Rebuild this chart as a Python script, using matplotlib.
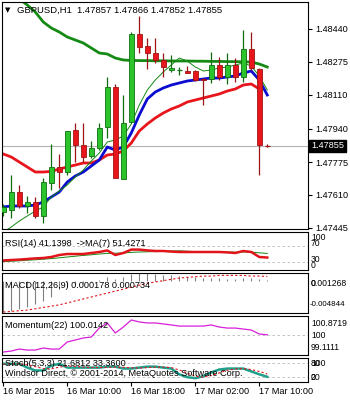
import numpy as np
import matplotlib.pyplot as plt
import matplotlib.transforms as mtransforms

# GBPUSD H1, 16 Mar 02:00 .. 17 Mar 11:00
opens  = [1.47525, 1.47535, 1.47625, 1.47555, 1.47575, 1.47505, 1.47670, 1.47750, 1.47725, 1.47935,
          1.47860, 1.47805, 1.47845, 1.47950, 1.48150, 1.47690, 1.47975, 1.48415, 1.48355, 1.48320,
          1.48285, 1.48235, 1.48234, 1.48230, 1.48230, 1.48190, 1.48190, 1.48260, 1.48200, 1.48260,
          1.48200, 1.48340, 1.48240, 1.47857]
highs  = [1.47565, 1.47710, 1.47660, 1.47605, 1.47600, 1.47695, 1.47865, 1.47815, 1.47930, 1.47970,
          1.47970, 1.47880, 1.47970, 1.48200, 1.48165, 1.48110, 1.48425, 1.48505, 1.48395, 1.48395,
          1.48320, 1.48310, 1.48250, 1.48255, 1.48235, 1.48195, 1.48325, 1.48300, 1.48320, 1.48295,
          1.48435, 1.48425, 1.48245, 1.47866]
lows   = [1.47505, 1.47495, 1.47545, 1.47520, 1.47495, 1.47470, 1.47635, 1.47645, 1.47710, 1.47775,
          1.47775, 1.47795, 1.47835, 1.47895, 1.47695, 1.47690, 1.47975, 1.48320, 1.48240, 1.48270,
          1.48200, 1.48225, 1.48210, 1.48220, 1.48180, 1.48060, 1.48170, 1.48185, 1.48165, 1.48175,
          1.48175, 1.48235, 1.47710, 1.47852]
closes = [1.47550, 1.47625, 1.47555, 1.47575, 1.47505, 1.47675, 1.47750, 1.47725, 1.47930, 1.47860,
          1.47800, 1.47845, 1.47945, 1.48150, 1.47695, 1.47970, 1.48415, 1.48350, 1.48320, 1.48285,
          1.48250, 1.48245, 1.48236, 1.48220, 1.48185, 1.48186, 1.48260, 1.48200, 1.48260, 1.48200,
          1.48340, 1.48245, 1.47860, 1.47855]

ma_slow = [1.48655, 1.48625, 1.48590, 1.48560, 1.48525, 1.48475, 1.48445, 1.48425, 1.48400, 1.48385,
           1.48370, 1.48345, 1.48320, 1.48315, 1.48295, 1.48285, 1.48283, 1.48282, 1.48282, 1.48281,
           1.48281, 1.48280, 1.48280, 1.48280, 1.48279, 1.48279, 1.48278, 1.48278, 1.48277, 1.48277,
           1.48276, 1.48275, 1.48265, 1.48250]
ma_blue = [1.47550, 1.47555, 1.47555, 1.47555, 1.47560, 1.47575, 1.47600, 1.47625, 1.47675, 1.47705,
           1.47725, 1.47755, 1.47785, 1.47850, 1.47835, 1.47850, 1.47920, 1.48010, 1.48090, 1.48125,
           1.48145, 1.48160, 1.48170, 1.48180, 1.48185, 1.48190, 1.48195, 1.48195, 1.48200, 1.48205,
           1.48220, 1.48230, 1.48185, 1.48110]
ma_red = [1.47815, 1.47800, 1.47775, 1.47750, 1.47725, 1.47725, 1.47728, 1.47740, 1.47750, 1.47760,
          1.47770, 1.47770, 1.47785, 1.47810, 1.47815, 1.47830, 1.47870, 1.47930, 1.47965, 1.47995,
          1.48020, 1.48040, 1.48055, 1.48075, 1.48085, 1.48095, 1.48105, 1.48115, 1.48130, 1.48140,
          1.48160, 1.48165, 1.48140]
ma_fast = [1.47425, 1.47450, 1.47480, 1.47505, 1.47530, 1.47550, 1.47600, 1.47630, 1.47660, 1.47700,
           1.47735, 1.47780, 1.47820, 1.47875, 1.47885, 1.47905, 1.47965, 1.48060, 1.48135, 1.48185,
           1.48225, 1.48260, 1.48295, 1.48280, 1.48250, 1.48230, 1.48235, 1.48245, 1.48250, 1.48260,
           1.48270, 1.48255, 1.48205, 1.48135]

rsi = [33.8, 35.0, 36.0, 37.5, 39.0, 40.0, 42.5, 47.5, 50.0, 50.0,
       50.0, 52.5, 55.0, 58.8, 47.5, 52.5, 61.0, 61.0, 59.0, 57.5,
       57.5, 56.0, 55.0, 55.0, 55.0, 55.0, 55.0, 55.0, 54.0, 52.5,
       57.5, 55.0, 42.5, 41.14]
rsi_ma = [31.0, 32.0, 33.0, 34.5, 35.5, 37.0, 38.5, 40.5, 42.5, 44.5,
          46.5, 48.0, 50.0, 51.5, 52.0, 52.5, 54.0, 55.0, 55.5, 56.0,
          56.5, 57.5, 58.0, 57.0, 56.0, 55.5, 55.0, 55.0, 55.0, 54.5,
          55.0, 55.0, 53.0, 51.43]

macd_hist = [-0.0047, -0.0045, -0.0042, -0.0039, -0.0035, -0.0030, -0.0024, -0.0012, -0.0008, -0.0005,
             -0.0003, -0.0001, 0.0002, 0.0006, 0.0003, 0.0006, 0.0011, 0.00127, 0.0012, 0.0011,
             0.0010, 0.0009, 0.0008, 0.0007, 0.0006, 0.0005, 0.0005, 0.0005, 0.0004, 0.0004,
             0.0005, 0.0005, 0.0003, 0.000178]
macd_sig = [-0.0047, -0.0046, -0.0045, -0.0044, -0.0042, -0.0040, -0.0038, -0.0036, -0.0033, -0.0030,
            -0.0027, -0.0024, -0.0021, -0.0018, -0.0015, -0.0012, -0.0009, -0.0006, -0.0003, -0.0001,
            0.0001, 0.0003, 0.0005, 0.0006, 0.0007, 0.0008, 0.0008, 0.0009, 0.0009, 0.0009,
            0.0009, 0.0008, 0.0008, 0.000734]

momentum = [98.80, 98.87, 99.01, 98.94, 98.94, 99.08, 99.01, 99.01, 99.51, 99.65,
            99.79, 99.86, 100.49, 100.85, 100.14, 100.56, 101.06, 100.92, 100.85, 100.85,
            100.78, 100.71, 100.63, 100.63, 100.63, 100.63, 100.71, 100.56, 100.49, 100.49,
            100.42, 100.35, 100.07, 100.0142]

stoch_k = [76, 76, 76, 60, 48, 48, 68, 76, 60, 60,
           60, 60, 60, 64, 64, 56, 56, 60, 64, 64,
           60, 56, 32, 20, 16, 24, 40, 52, 56, 56,
           56, 44, 32, 21.68]
stoch_d = [74, 76, 76, 72, 64, 56, 55, 62, 66, 65,
           62, 60, 60, 61, 62, 61, 59, 58, 60, 62,
           62, 60, 50, 37, 24, 20, 27, 38, 49, 54,
           56, 52, 44, 33.36]

price_ticks = [1.48440, 1.48275, 1.48110, 1.47940, 1.47775, 1.47610, 1.47445]
time_labels = ['16 Mar 2015', '16 Mar 10:00', '16 Mar 18:00', '17 Mar 02:00', '17 Mar 10:00']
time_pos = [0, 8, 16, 24, 32]
last_price = 1.47855

W, H = 350, 400
plt.rcParams['font.family'] = ['Liberation Sans', 'DejaVu Sans']
fig = plt.figure(figsize=(3.5, 4), dpi=100)


def box(x0, y0, x1, y1):
    return [x0 / W, 1 - y1 / H, (x1 - x0) / W, (y1 - y0) / H]


def ftext(x, y, s, **kw):
    kw.setdefault('fontsize', 6.6)
    kw.setdefault('va', 'center')
    fig.text(x / W, 1 - y / H, s, **kw)


XL = (-0.16, 38.09)
n = len(opens)
idx = np.arange(n)
RS = 6.2  # right-hand scale labels

# ---- main price panel
ax = fig.add_axes(box(2, 2, 308, 229))
ax.set_xlim(*XL)
ax.set_ylim(1.47440, 1.48575)
ax.axhline(last_price, color='#b4b4b4', lw=0.8, zorder=1)

ax.plot(np.arange(len(ma_red)), ma_red, color='#e8161c', lw=2.0, zorder=2)
ax.plot(idx, ma_slow, color='#158a15', lw=2.0, zorder=2)
ax.plot(idx, ma_blue, color='#0c0cd0', lw=2.0, zorder=2)
ax.plot(idx, ma_fast, color='#118811', lw=0.7, zorder=2)

for i in range(n):
    up = closes[i] >= opens[i]
    wick = '#0f6e0f' if up else '#9c1414'
    body = '#2cc42c' if up else '#e8161c'
    ax.vlines(i, lows[i], highs[i], color=wick, lw=0.9, zorder=3)
    lo, hi = min(opens[i], closes[i]), max(opens[i], closes[i])
    if hi - lo < 0.00004:
        ax.hlines(closes[i], i - 0.3, i + 0.3, color=wick, lw=0.9, zorder=4)
    else:
        ax.bar(i, hi - lo, bottom=lo, width=0.62, color=body, edgecolor=wick, lw=0.6, zorder=4)

ax.set_yticks(price_ticks)
ax.set_yticklabels([f'{p:.5f}' for p in price_ticks])
ax.tick_params(axis='y', left=False, labelleft=False, right=True, labelright=True,
               length=3, pad=2, labelsize=RS + 0.4)
ax.set_xticks([])
trans = mtransforms.blended_transform_factory(ax.transAxes, ax.transData)
ax.text(1.01, last_price, '1.47855', transform=trans, fontsize=RS + 0.4, color='white', va='center',
        ha='left', bbox=dict(boxstyle='square,pad=0.2', fc='black', ec='black'), clip_on=False)
ftext(5, 10, '\u25bc', fontsize=5, family='DejaVu Sans')
ftext(17, 10, 'GBPUSD,H1  1.47857 1.47866 1.47852 1.47855', fontsize=6.8)

# ---- RSI
ax_rsi = fig.add_axes(box(2, 232, 308, 270))
ax_rsi.set_xlim(*XL)
ax_rsi.set_ylim(10, 105)
for lv in (70, 30):
    ax_rsi.axhline(lv, color='#b8b8b8', lw=0.6, ls=(0, (3, 3)))
ax_rsi.plot(idx, rsi_ma, color='#118811', lw=0.7)
ax_rsi.plot(idx, rsi, color='#e0141a', lw=1.8)
ftext(5, 243, 'RSI(14) 41.1398  ->MA(7) 51.4271')
for lab, yy in (('100', 238), ('70', 243), ('30', 260), ('0', 265)):
    ftext(311, yy, lab, fontsize=RS)

# ---- MACD
ax_macd = fig.add_axes(box(2, 273, 308, 313))
ax_macd.set_xlim(*XL)
ax_macd.set_ylim(-0.004844, 0.001268)
ax_macd.vlines(idx, 0, macd_hist, color='#808080', lw=0.8)
ax_macd.plot(idx, macd_sig, color='#e0141a', lw=0.8, ls=(0, (2, 2)))
ftext(5, 286, 'MACD(12,26,9) 0.000178 0.000734')
ftext(311, 283, '0.001268', fontsize=RS)
ftext(311, 283, '0', fontsize=RS)
ftext(310, 305, '-0.004844', fontsize=RS - 0.5)

# ---- Momentum
ax_mom = fig.add_axes(box(2, 316, 308, 355))
ax_mom.set_xlim(*XL)
ax_mom.set_ylim(98.59, 101.34)
ax_mom.axhline(100, color='#b8b8b8', lw=0.6, ls=(0, (3, 3)))
ax_mom.plot(idx, momentum, color='#d81ed8', lw=0.9)
ftext(5, 326, 'Momentum(22) 100.0142')
for lab, yy in (('100.8719', 323), ('100', 335), ('99.1111', 348)):
    ftext(311, yy, lab, fontsize=RS)

# ---- Stochastic
ax_st = fig.add_axes(box(2, 358, 308, 382))
ax_st.set_xlim(*XL)
ax_st.set_ylim(0, 100)
for lv in (80, 20):
    ax_st.axhline(lv, color='#b8b8b8', lw=0.6, ls=(0, (3, 3)))
ax_st.plot(idx, stoch_k, color='#20a08c', lw=1.8)
ax_st.plot(idx, stoch_d, color='#e0141a', lw=0.8, ls=(0, (2, 2)))
ftext(5, 364, 'Stoch(5,3,3) 21.6812 33.3600')
ftext(5, 373, 'Windsor Direct, \u00a9 2001-2014, MetaQuotes Software Corp.')
for lab, yy in (('80', 363), ('100', 364), ('20', 377), ('0', 377)):
    ftext(311, yy, lab, fontsize=RS)

for a in (ax_rsi, ax_macd, ax_mom, ax_st):
    a.set_yticks([])
    a.set_xticks([])
for a in (ax, ax_rsi, ax_macd, ax_mom, ax_st):
    for sp in a.spines.values():
        sp.set_linewidth(0.8)

ax_st.set_xticks(time_pos)
ax_st.set_xticklabels([])
ax_st.tick_params(axis='x', length=3, width=0.8)
for lab, p in zip(time_labels, time_pos):
    ftext(3.3 + 8 * p, 392, lab, ha='left')

fig.savefig('out.png', dpi=100, facecolor='white')
